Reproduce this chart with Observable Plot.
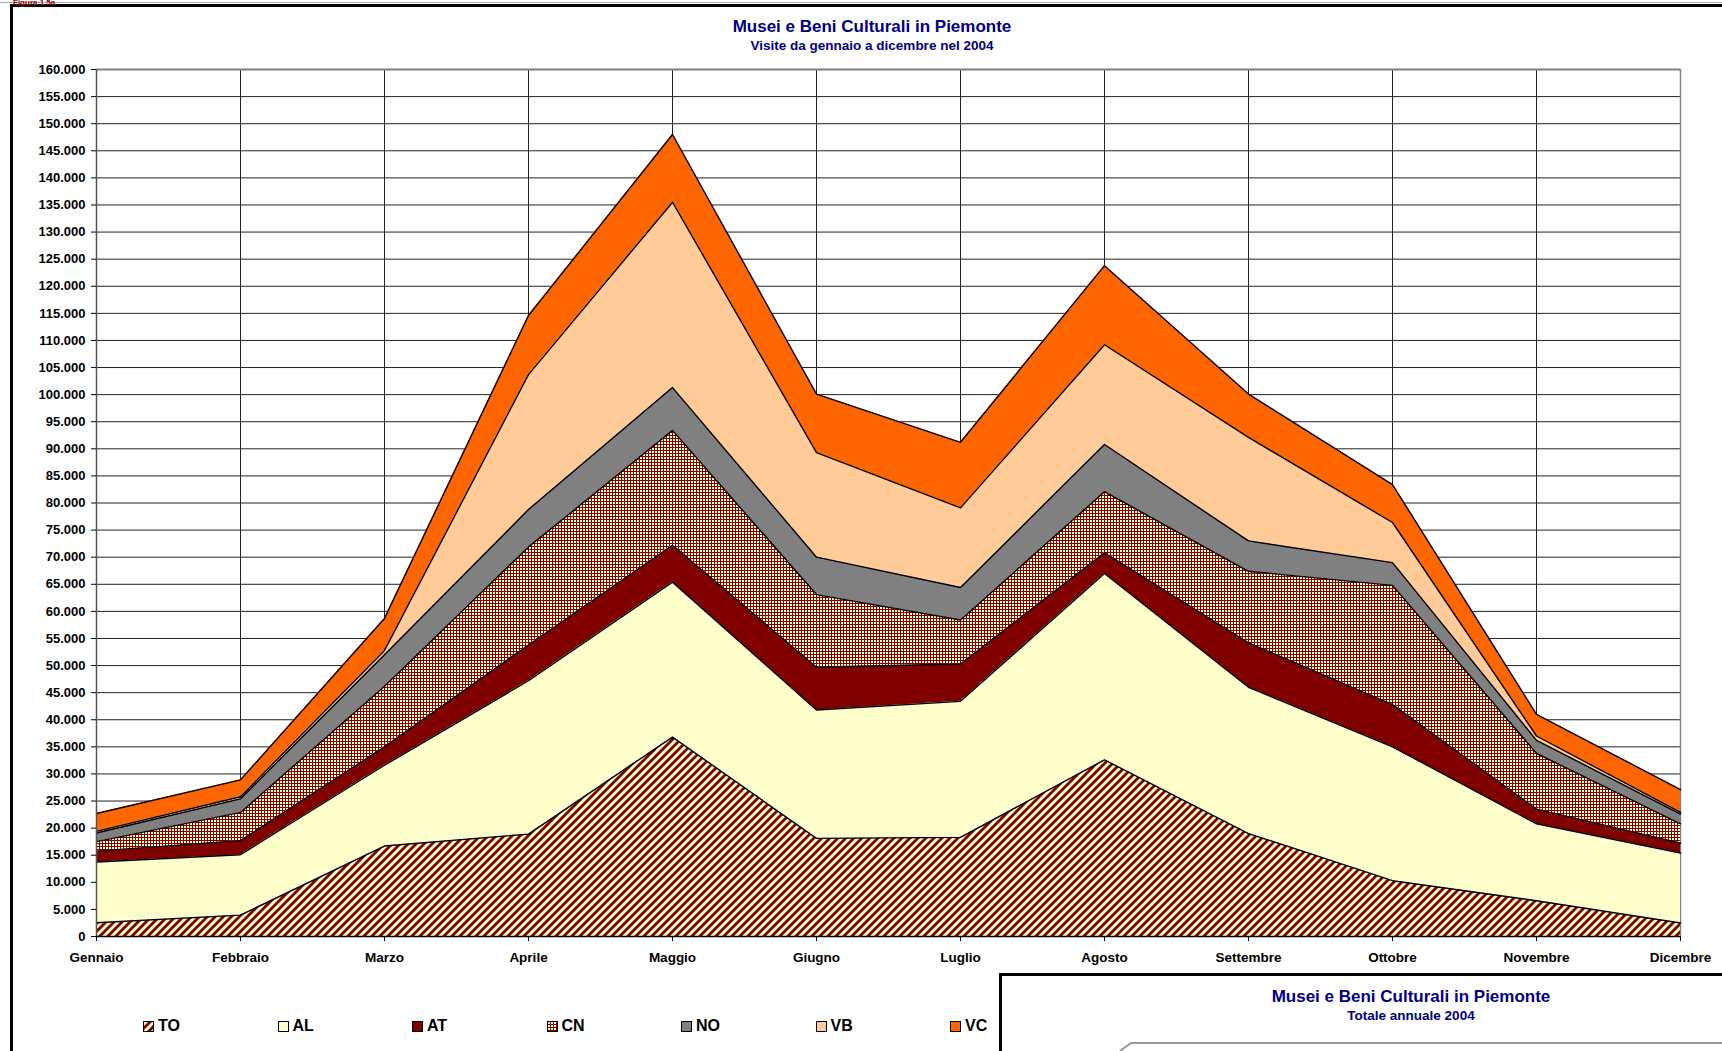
<!DOCTYPE html>
<html>
<head>
<meta charset="utf-8">
<script src="https://cdn.jsdelivr.net/npm/d3@7"></script>
<script src="https://cdn.jsdelivr.net/npm/@observablehq/plot@0.6"></script>
<style>
  html, body { margin: 0; padding: 0; }
  body { width: 1722px; height: 1051px; overflow: hidden; background: #fff; position: relative;
         font-family: "Liberation Sans", Arial, sans-serif; font-weight: bold; }
  .abs { position: absolute; white-space: nowrap; }
  .ttl { color: #000080; line-height: 1; transform: translateX(-50%); }
  .leg { position: absolute; font-size: 16px; line-height: 1; color: #000; }
  .leg svg { position: absolute; left: 0; top: 3px; }
  .leg span { position: absolute; left: 15px; top: 0; }
</style>
</head>
<body>
<svg width="0" height="0" style="position:absolute">
  <defs>
    <pattern id="pTO" patternUnits="userSpaceOnUse" width="8" height="8">
      <rect width="8" height="8" fill="#FFFFCC"/>
      <path d="M-2,2 L2,-2 M0,8 L8,0 M6,10 L10,6" stroke="#800000" stroke-width="2.8"/>
    </pattern>
    <pattern id="pCN" patternUnits="userSpaceOnUse" width="3" height="3">
      <rect width="3" height="3" fill="#800000"/>
      <rect x="1" y="1" width="2" height="2" fill="#FFFFCC"/>
    </pattern>
  </defs>
</svg>

<div class="abs" style="left:0;top:2px;width:1722px;height:1px;background:#aaa"></div>
<div class="abs" style="left:10px;top:4px;width:1800px;height:1200px;border:3px solid #000;box-sizing:border-box"></div>
<div class="abs" style="left:13px;top:-0.8px;font-size:8px;line-height:1;color:#990000">Figura 1.5a</div>

<div class="abs ttl" style="left:872px;top:18px;font-size:17px">Musei e Beni Culturali in Piemonte</div>
<div class="abs ttl" style="left:872px;top:38.5px;font-size:13.5px">Visite da gennaio a dicembre nel 2004</div>

<div id="chart" class="abs" style="left:0;top:60px"></div>
<div id="legend" class="abs" style="left:0;top:0"></div>

<div class="abs" style="left:999px;top:973px;width:900px;height:200px;border:3px solid #000;box-sizing:border-box;background:#fff"></div>
<div class="abs ttl" style="left:1411px;top:987.5px;font-size:17px">Musei e Beni Culturali in Piemonte</div>
<div class="abs ttl" style="left:1411px;top:1008.5px;font-size:13.5px">Totale annuale 2004</div>
<svg class="abs" style="left:999px;top:973px" width="723" height="78">
  <path d="M121,78 L132,70 L723,70" fill="none" stroke="#999" stroke-width="2"/>
</svg>

<script>
// ---- data ----
const months = ["Gennaio","Febbraio","Marzo","Aprile","Maggio","Giugno","Luglio","Agosto","Settembre","Ottobre","Novembre","Dicembre"];
const seriesNames = ["TO","AL","AT","CN","NO","VB","VC"];
const TO = [2550, 3950, 16700, 18900, 36800, 18100, 18300, 32600, 19000, 10300, 6600, 2500];
const AL = [11200, 11150, 14900, 28300, 28600, 23700, 25100, 34400, 27000, 24700, 14200, 12900];
const AT = [2000, 2600, 3400, 6600, 6800, 7900, 6900, 3800, 8200, 7800, 2700, 1800];
const CN = [1750, 5200, 11200, 18100, 21200, 13400, 8100, 11300, 13200, 22000, 10300, 3600];
const NO = [1600, 2500, 5800, 6900, 7900, 6900, 6000, 8700, 5600, 4200, 2400, 1800];
const VB = [300, 400, 800, 24900, 34200, 19300, 14700, 18400, 19100, 7400, 800, 300];
const VC = [3300, 3100, 5900, 10900, 12500, 10800, 12100, 14600, 8000, 7000, 4000, 4200];
const yTicks = [0,5000,10000,15000,20000,25000,30000,35000,40000,45000,50000,55000,60000,65000,70000,75000,80000,85000,90000,95000,100000,105000,110000,115000,120000,125000,130000,135000,140000,145000,150000,155000,160000];
const fills = ["url(#pTO)","#FFFFCC","#800000","url(#pCN)","#808080","#FFCC99","#FF6600"];

const seriesValues = {TO, AL, AT, CN, NO, VB, VC};
const table = [];
for (const s of seriesNames) months.forEach((m, i) => table.push({month: m, series: s, value: seriesValues[s][i]}));

const it = d3.formatLocale({decimal: ",", thousands: ".", grouping: [3], currency: ["", "€"]});
const fmt = it.format(",d");

const font = '"Liberation Sans", Arial, sans-serif';
const chart = Plot.plot({
  width: 1722,
  height: 920,
  marginTop: 9,
  marginBottom: 44,
  marginLeft: 96,
  marginRight: 42,
  style: {background: "transparent", fontFamily: font, fontWeight: "bold", fontSize: "13px", color: "#000", overflow: "visible"},
  x: {type: "point", domain: months, padding: 0, label: null},
  y: {domain: [0, 160000], label: null},
  color: {domain: seriesNames, range: fills},
  marks: [
    Plot.gridY(yTicks, {stroke: "#222", strokeOpacity: 1, strokeWidth: 1}),
    Plot.gridX(months, {stroke: "#222", strokeOpacity: 1, strokeWidth: 1}),
    Plot.ruleY([160000], {stroke: "#808080", strokeWidth: 2}),
    Plot.ruleX([months[months.length - 1]], {stroke: "#808080", strokeWidth: 1.5}),
    Plot.areaY(table, {x: "month", y: "value", z: "series", fill: "series", order: seriesNames}),
    Plot.lineY(table, Plot.stackY2({x: "month", y: "value", z: "series", order: seriesNames, stroke: "#000", strokeWidth: 1.4})),
    Plot.ruleX([months[0]], {stroke: "#555", strokeWidth: 1.5}),
    Plot.ruleY([0], {stroke: "#000", strokeWidth: 1.5}),
    Plot.axisY(yTicks, {tickFormat: fmt, tickSize: 5, tickPadding: 6, fontSize: 13, fontWeight: "bold", label: null}),
    Plot.axisX(months, {tickSize: 5, tickPadding: 11, fontSize: 13.5, fontWeight: "bold", label: null})
  ]
});
document.getElementById("chart").appendChild(chart);

// ---- legend ----
const legend = document.getElementById("legend");
seriesNames.forEach((s, i) => {
  const item = document.createElement("div");
  item.className = "leg";
  item.style.left = (143 + i * 134.5) + "px";
  item.style.top = "1018px";
  item.innerHTML = `<svg width="11" height="11"><rect x="0.5" y="0.5" width="10" height="10" fill="${fills[i]}" stroke="#000" stroke-width="1"/></svg><span>${s}</span>`;
  legend.appendChild(item);
});
</script>
</body>
</html>
